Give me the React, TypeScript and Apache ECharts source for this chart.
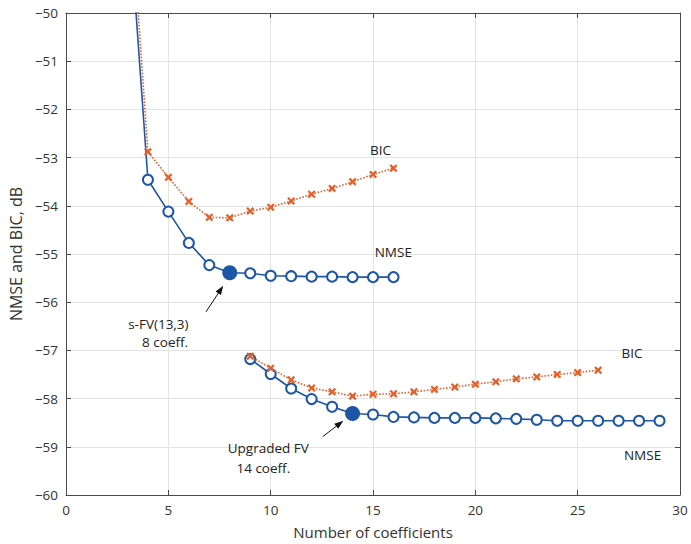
import React, { useEffect, useRef } from "react";
import * as echarts from "echarts";

// ---- data ----
const nmse1X = [3, 4, 5, 6, 7, 8, 9, 10, 11, 12, 13, 14, 15, 16];
const nmse1Y = [-47.5, -53.46, -54.12, -54.77, -55.23, -55.39, -55.4, -55.45, -55.46, -55.47, -55.47, -55.48, -55.48, -55.48];
const bic1X = [3, 4, 5, 6, 7, 8, 9, 10, 11, 12, 13, 14, 15, 16];
const bic1Y = [-46.8, -52.88, -53.41, -53.91, -54.24, -54.25, -54.11, -54.03, -53.9, -53.76, -53.64, -53.5, -53.35, -53.22];
const nmse2X = [9, 10, 11, 12, 13, 14, 15, 16, 17, 18, 19, 20, 21, 22, 23, 24, 25, 26, 27, 28, 29];
const nmse2Y = [-57.18, -57.49, -57.79, -58.01, -58.17, -58.31, -58.33, -58.38, -58.39, -58.4, -58.4, -58.4, -58.41, -58.42, -58.44, -58.46, -58.46, -58.46, -58.46, -58.46, -58.46];
const bic2X = [9, 10, 11, 12, 13, 14, 15, 16, 17, 18, 19, 20, 21, 22, 23, 24, 25, 26];
const bic2Y = [-57.12, -57.37, -57.61, -57.78, -57.86, -57.95, -57.91, -57.9, -57.86, -57.81, -57.76, -57.7, -57.65, -57.59, -57.55, -57.5, -57.46, -57.41];
const highlight1X = 8;
const highlight2X = 14;

const xTicks = { min: 0, max: 30, interval: 5 };
const yTicks = { min: -60, max: -50, interval: 1 };

const BLUE = "#1d56a6";
const ORANGE = "#e4602a";
const FONT = "'Open Sans', 'Noto Sans', sans-serif";
const CROSS = "path://M2,0 L5,3 L8,0 L10,2 L7,5 L10,8 L8,10 L5,7 L2,10 L0,8 L3,5 L0,2 Z";

const zip = (xs: number[], ys: number[]) => xs.map((x, i) => [x, ys[i]]);
const pick = (xs: number[], ys: number[], x: number) => [x, ys[xs.indexOf(x)]];
const minus = (v: number) => String(v).replace("-", "\u2212");

export default function App() {
  const ref = useRef<HTMLDivElement>(null);
  useEffect(() => {
    const chart = echarts.init(ref.current!, null, { renderer: "svg" });
    const axisLine = { show: true, onZero: false, lineStyle: { color: "#4a4a4a", width: 1 } };
    const tick = { show: true, inside: true, length: 5, lineStyle: { color: "#4a4a4a" } };
    chart.setOption({
      animation: false,
      backgroundColor: "#ffffff",
      textStyle: { fontFamily: FONT },
      grid: { left: 66, right: 11, top: 13, bottom: 49 },
      xAxis: [
        {
          type: "value", ...xTicks, position: "bottom",
          axisLine, axisTick: tick,
          axisLabel: { color: "#333", fontSize: 13.5, margin: 8, fontFamily: FONT },
          splitLine: { show: true, lineStyle: { color: "#e3e3e3" } },
          name: "Number of coefficients", nameLocation: "middle", nameGap: 29,
          nameTextStyle: { color: "#333", fontSize: 15, fontFamily: FONT },
        },
        {
          type: "value", ...xTicks, position: "top",
          axisLine, axisTick: tick, axisLabel: { show: false }, splitLine: { show: false },
        },
      ],
      yAxis: [
        {
          type: "value", ...yTicks, position: "left",
          axisLine, axisTick: tick,
          axisLabel: { color: "#333", fontSize: 13.5, margin: 8, formatter: minus, fontFamily: FONT },
          splitLine: { show: true, lineStyle: { color: "#e3e3e3" } },
          name: "NMSE and BIC, dB", nameLocation: "middle", nameGap: 36,
          nameTextStyle: { color: "#333", fontSize: 16, fontFamily: FONT },
        },
        {
          type: "value", ...yTicks, position: "right",
          axisLine, axisTick: tick, axisLabel: { show: false }, splitLine: { show: false },
        },
      ],
      series: [
        {
          type: "line", data: zip(nmse1X, nmse1Y), clip: true,
          symbol: "emptyCircle", symbolSize: 10, showAllSymbol: true,
          lineStyle: { color: BLUE, width: 1.6 },
          itemStyle: { color: BLUE, borderWidth: 1.6 }, z: 2,
        },
        {
          type: "line", data: zip(nmse2X, nmse2Y), clip: true,
          symbol: "emptyCircle", symbolSize: 10, showAllSymbol: true,
          lineStyle: { color: BLUE, width: 1.6 },
          itemStyle: { color: BLUE, borderWidth: 1.6 }, z: 2,
        },
        {
          type: "scatter",
          data: [pick(nmse1X, nmse1Y, highlight1X), pick(nmse2X, nmse2Y, highlight2X)],
          symbol: "circle", symbolSize: 15, itemStyle: { color: BLUE, opacity: 1 }, z: 3,
        },
        {
          type: "line", data: zip(bic1X, bic1Y), clip: true,
          symbol: CROSS, symbolSize: 8, showAllSymbol: true,
          lineStyle: { color: ORANGE, width: 1.6, type: "dotted" },
          itemStyle: { color: ORANGE }, z: 4,
        },
        {
          type: "line", data: zip(bic2X, bic2Y), clip: true,
          symbol: CROSS, symbolSize: 8, showAllSymbol: true,
          lineStyle: { color: ORANGE, width: 1.6, type: "dotted" },
          itemStyle: { color: ORANGE }, z: 4,
        },
      ],
    });

    const P = (x: number, y: number) => chart.convertToPixel({ seriesIndex: 0 }, [x, y]) as number[];
    const label = (text: string, x: number, y: number) => {
      const [px, py] = P(x, y);
      return {
        type: "text", x: px, y: py, z: 10,
        style: { text, fill: "#222", fontSize: 13.5, fontFamily: FONT, align: "center", verticalAlign: "middle" },
      };
    };
    const arrow = (x0: number, y0: number, x1: number, y1: number) => {
      const [ax, ay] = P(x0, y0);
      const [bx, by] = P(x1, y1);
      const dx = bx - ax, dy = by - ay;
      const L = Math.hypot(dx, dy);
      const ux = dx / L, uy = dy / L;
      const hl = 9, hw = 3.2;
      const baseX = bx - ux * hl, baseY = by - uy * hl;
      return [
        { type: "line", z: 10, shape: { x1: ax, y1: ay, x2: baseX + ux * 2, y2: baseY + uy * 2 }, style: { stroke: "#111", lineWidth: 1 } },
        {
          type: "polygon", z: 10,
          shape: { points: [[bx, by], [baseX - uy * hw, baseY + ux * hw], [baseX + uy * hw, baseY - ux * hw]] },
          style: { fill: "#111" },
        },
      ];
    };
    chart.setOption({
      graphic: [
        label("BIC", 15.37, -52.84),
        label("NMSE", 15.99, -54.95),
        label("BIC", 27.65, -57.05),
        label("NMSE", 28.17, -59.17),
        label("s-FV(13,3)", 4.51, -56.45),
        label("8 coeff.", 4.84, -56.82),
        label("Upgraded FV", 9.88, -59.03),
        label("14 coeff.", 9.64, -59.43),
        ...arrow(6.84, -56.2, 7.68, -55.66),
        ...arrow(12.54, -58.79, 13.55, -58.46),
      ],
    });
    return () => chart.dispose();
  }, []);
  return <div ref={ref} style={{ position: "fixed", left: 0, top: 0, width: 691, height: 544 }} />;
}
